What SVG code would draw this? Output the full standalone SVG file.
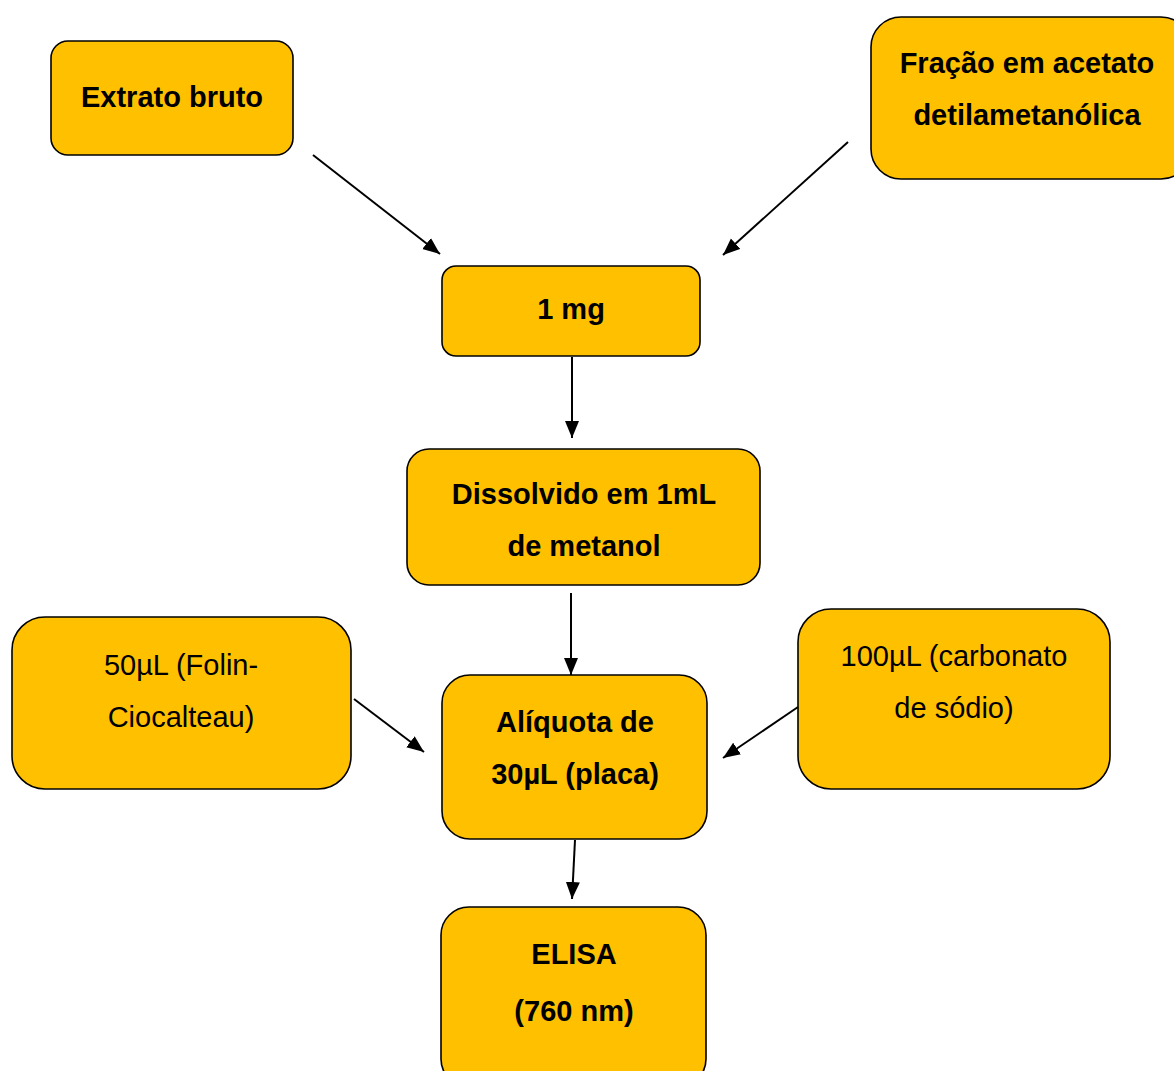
<svg xmlns="http://www.w3.org/2000/svg" width="1174" height="1071" viewBox="0 0 1174 1071">
<style>
.box{fill:#FFC000;stroke:#000;stroke-width:1.6}
.t{font-family:"Liberation Sans",Arial,sans-serif;font-size:29px;text-anchor:middle;fill:#000}
.b{font-weight:bold}
.c{stroke:#000;stroke-width:2;fill:none;marker-end:url(#ah)}
</style>
<defs>
<marker id="ah" markerUnits="userSpaceOnUse" markerWidth="18" markerHeight="16" refX="17" refY="7" orient="auto">
<path d="M0,0 L17,7 L0,14 Z" fill="#000"/>
</marker>
</defs>
<rect width="1174" height="1071" fill="#fff"/>
<g id="n-extrato">
<rect class="box" x="51" y="41" width="242" height="114" rx="17"/>
<text class="t b" x="172" y="107">Extrato bruto</text>
</g>
<g id="n-fracao">
<rect class="box" x="871" y="17" width="320" height="162" rx="30"/>
<text class="t b" x="1027" y="73">Fração em acetato</text>
<text class="t b" x="1027" y="125">detilametanólica</text>
</g>
<g id="n-1mg">
<rect class="box" x="442" y="266" width="258" height="90" rx="14"/>
<text class="t b" x="571" y="319">1 mg</text>
</g>
<g id="n-dissolvido">
<rect class="box" x="407" y="449" width="353" height="136" rx="22"/>
<text class="t b" x="584" y="504">Dissolvido em 1mL</text>
<text class="t b" x="584" y="556">de metanol</text>
</g>
<g id="n-folin">
<rect class="box" x="12" y="617" width="339" height="172" rx="33"/>
<text class="t" x="181" y="675">50µL (Folin-</text>
<text class="t" x="181" y="727">Ciocalteau)</text>
</g>
<g id="n-aliquota">
<rect class="box" x="442" y="675" width="265" height="164" rx="28"/>
<text class="t b" x="575" y="732">Alíquota de</text>
<text class="t b" x="575" y="784">30µL (placa)</text>
</g>
<g id="n-carbonato">
<rect class="box" x="798" y="609" width="312" height="180" rx="33"/>
<text class="t" x="954" y="666">100µL (carbonato</text>
<text class="t" x="954" y="718">de sódio)</text>
</g>
<g id="n-elisa">
<rect class="box" x="441" y="907" width="265" height="180" rx="28"/>
<text class="t b" x="574" y="964">ELISA</text>
<text class="t b" x="574" y="1021">(760 nm)</text>
</g>
<g id="connectors">
<line class="c" x1="313" y1="155" x2="440" y2="254"/>
<line class="c" x1="848" y1="142" x2="723" y2="255"/>
<line class="c" x1="572" y1="357" x2="572" y2="438"/>
<line class="c" x1="571" y1="593" x2="571" y2="675"/>
<line class="c" x1="354" y1="699" x2="424" y2="752"/>
<line class="c" x1="798" y1="707" x2="723" y2="758"/>
<line class="c" x1="575" y1="840" x2="572" y2="899"/>
</g>
</svg>
